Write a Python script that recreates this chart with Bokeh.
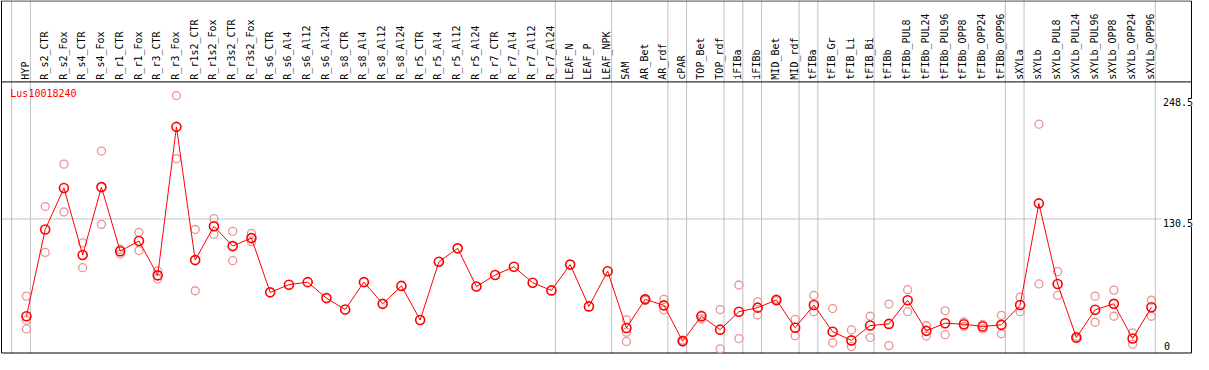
import math
from bokeh.plotting import figure
from bokeh.models import Range1d
from bokeh.core.properties import value
from bokeh.embed import file_html
from bokeh.resources import INLINE

nan = float("nan")

categories = ["HYP", "R_s2_CTR", "R_s2_Fox", "R_s4_CTR", "R_s4_Fox", "R_r1_CTR", "R_r1_Fox",
              "R_r3_CTR", "R_r3_Fox", "R_r1s2_CTR", "R_r1s2_Fox", "R_r3s2_CTR", "R_r3s2_Fox",
              "R_s6_CTR", "R_s6_Al4", "R_s6_Al12", "R_s6_Al24", "R_s8_CTR", "R_s8_Al4",
              "R_s8_Al12", "R_s8_Al24", "R_r5_CTR", "R_r5_Al4", "R_r5_Al12", "R_r5_Al24",
              "R_r7_CTR", "R_r7_Al4", "R_r7_Al12", "R_r7_Al24", "LEAF_N", "LEAF_P", "LEAF_NPK",
              "SAM", "AR_Bet", "AR_rdf", "cPAR", "TOP_Bet", "TOP_rdf", "iFIBa", "iFIBb",
              "MID_Bet", "MID_rdf", "tFIBa", "tFIB_Gr", "tFIB_Li", "tFIB_Bi", "tFIBb",
              "tFIBb_PUL8", "tFIBb_PUL24", "tFIBb_PUL96", "tFIBb_OPP8", "tFIBb_OPP24",
              "tFIBb_OPP96", "sXYLa", "sXYLb", "sXYLb_PUL8", "sXYLb_PUL24", "sXYLb_PUL96",
              "sXYLb_OPP8", "sXYLb_OPP24", "sXYLb_OPP96"]

mean_values = [35.5, 120.2, 160.7, 95.3, 161.6, 99.0, 109.0, 75.4, 220.4, 90.3, 123.3, 104.0, 111.8,
               58.8, 66.3, 68.8, 53.2, 42.0, 68.8, 47.6, 65.1, 31.8, 88.7, 101.8, 64.5,
               75.7, 83.8, 68.2, 60.7, 85.9, 45.1, 79.4,
               24.0, 52.0, 46.1, 11.2, 35.5, 22.4, 39.9, 43.9, 51.4, 24.3, 46.4, 20.3, 11.9, 26.4,
               28.0, 51.1, 21.2, 28.7, 27.7, 25.5, 27.1, 46.4, 145.7, 67.0, 14.7, 41.8, 47.6, 13.7, 44.2]

rep_a = [55.1, 142.6, 184.0, 107.1, 196.8, 100.9, 117.4, 79.7, 251.0, 120.2, 130.8, 118.4, 116.5,
         nan, nan, nan, nan, nan, nan, nan, nan, nan, nan, nan, nan, nan, nan, nan, nan, nan, nan, nan,
         32.0, 52.6, 52.0, 12.1, 36.7, 42.0, 66.0, 49.5, 52.3, 32.4, 55.8, 43.0, 22.1, 35.5,
         47.4, 61.4, 26.2, 40.8, 29.9, 27.4, 36.4, 54.2, 223.0, 79.1, 15.9, 55.1, 61.0, 19.3, 51.1]

rep_b = [31.5, 97.8, 137.3, 82.9, 125.2, 96.2, 99.7, 71.9, 189.3, 60.4, 115.5, 89.7, 108.1,
         nan, nan, nan, nan, nan, nan, nan, nan, nan, nan, nan, nan, nan, nan, nan, nan, nan, nan, nan,
         19.9, 51.1, 41.8, 10.3, 33.0, 3.7, 13.7, 36.7, 50.4, 16.5, 39.9, 9.6, 5.9, 14.7,
         6.8, 39.9, 16.2, 17.5, 25.5, 23.1, 18.4, 39.9, 67.0, 55.8, 13.7, 29.6, 35.5, 8.1, 35.5]

rep_c = [23.1] + [nan] * 31 + [10.9] + [nan] * 28

group_breaks = [-1, 0, 28, 31, 34, 35, 37, 38, 39, 41, 42, 45, 52, 53, 60]

axis_ticks = [0, 130.5, 248.5]
axis_labels = ["0", "130.5", "248.5"]
gene = "Lus10018240"

W, H = 1193, 354
X0, X1 = -1.384, 62.247
Y0, Y1 = -1.87, 343.8

p = figure(width=W, height=H, x_range=Range1d(X0, X1), y_range=Range1d(Y0, Y1),
           x_axis_type=None, y_axis_type=None, toolbar_location=None,
           output_backend="svg", min_border=0, outline_line_color=None,
           background_fill_color="white", border_fill_color="white")
p.grid.visible = False

xs = list(range(len(categories)))
font = value("DejaVu Sans Mono")

# vertical group separators
vx = [b + 0.21 for b in group_breaks]
p.multi_line(xs=[[v, v] for v in vx], ys=[[Y0, Y1] for _ in vx],
             line_color="#c0c0c0", line_width=1)

# horizontal grid line at middle tick
p.multi_line(xs=[[X0, 60.55]], ys=[[axis_ticks[1], axis_ticks[1]]],
             line_color="#c0c0c0", line_width=1)

# frame and header separator
L, R, T, B = -1.332, 62.14, 343.4, -0.4
HDR = 264.3
p.multi_line(xs=[[L, R, R, L, L], [L, R]], ys=[[T, T, B, B, T], [HDR, HDR]],
             line_color="black", line_width=1)

# header labels
p.text(x=[x - 0.05 for x in xs], y=[266.5] * len(xs), text=categories, angle=math.pi / 2,
       text_font=font, text_font_size="10px", text_color="black",
       text_align="left", text_baseline="middle")

# gene name
p.text(x=[-0.86], y=[258.5], text=[gene], text_font=font, text_font_size="10px",
       text_color="red", text_align="left", text_baseline="top")

# right-hand value labels
p.text(x=[60.62, 60.62], y=[axis_ticks[2], axis_ticks[1]], text=[axis_labels[2], axis_labels[1]],
       text_font=font, text_font_size="10px", text_color="black",
       text_align="left", text_baseline="top", background_fill_color="white")
p.text(x=[60.68], y=[2.6], text=[axis_labels[0]], text_font=font, text_font_size="10px",
       text_color="black", text_align="left", text_baseline="bottom")

# replicate points
light = "#e99494"
for rep in (rep_a, rep_b, rep_c):
    p.scatter(x=xs, y=rep, marker="circle", size=8, fill_color=None,
              line_color=light, line_width=1.3)

# mean line and points
p.line(x=xs, y=mean_values, line_color="red", line_width=1)
p.scatter(x=xs, y=mean_values, marker="circle", size=9, fill_color=None,
          line_color="red", line_width=1.6)

open("out.html", "w").write(file_html(p, INLINE))
